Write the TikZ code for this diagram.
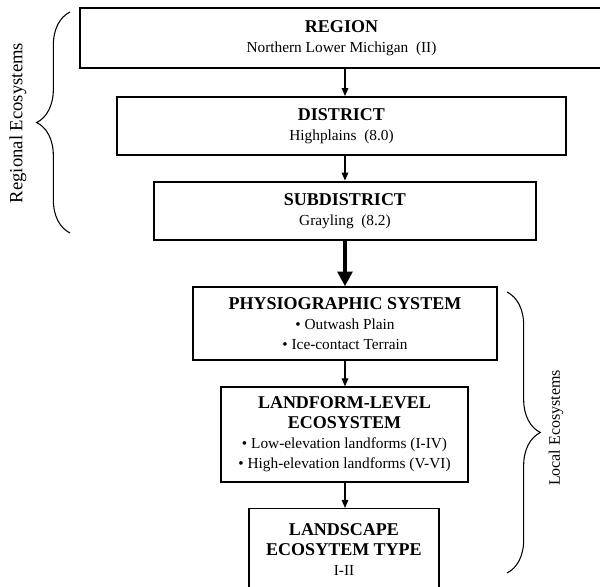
\documentclass[tikz,border=0pt]{standalone}
\usepackage{fontspec}
\setmainfont{Liberation Serif}
\usetikzlibrary{arrows.meta,decorations.pathreplacing}

\newcommand{\bhead}[1]{{\fontsize{13.5}{15}\selectfont\bfseries #1}}
\newcommand{\btext}[1]{{\fontsize{11.5}{15}\selectfont #1}}

\tikzstyle{bS}=[rectangle,draw,line width=1.1pt,inner sep = 0pt,align=center,font=\fontsize{11.5}{15}\selectfont]
\tikzstyle{aS}=[line width=0.8pt,-{Triangle[length=6pt,width=5pt]}]
\tikzstyle{aT}=[line width=2.6pt,-{Triangle[length=11pt,width=11pt]}]
\tikzstyle{brS}=[line width=0.8pt,decorate,decoration={brace,amplitude=25pt}]
\tikzstyle{lS}=[rotate=90]

\begin{document}
\begin{tikzpicture}[x=0.75pt,y=0.75pt]
                \useasboundingbox (0,0) rectangle (600,-586);
                \draw (341.5,-38) node[bS,minimum width=392.25pt,minimum height=45pt] (n0)
                    {\bhead{REGION}\\ \btext{Northern Lower Michigan\ \ (II)}};
                \draw (341.5,-126) node[bS,line width=1.5pt,minimum width=336.75pt,minimum height=43.5pt] (n1)
                    {\bhead{DISTRICT}\\ \btext{Highplains\ \ (8.0)}};
                \draw (345,-211) node[bS,line width=2.2pt,minimum width=286.5pt,minimum height=43.5pt] (n2)
                    {\bhead{SUBDISTRICT}\\ \btext{Grayling\ \ (8.2)}};
                \draw (345,-323.5) node[bS,minimum width=228pt,minimum height=54.75pt] (n3)
                    {\bhead{PHYSIOGRAPHIC SYSTEM}\\ \btext{\textbullet\ Outwash Plain}\\ \btext{\textbullet\ Ice-contact Terrain}};
                \draw (344.5,-434.5) node[bS,minimum width=185.25pt,minimum height=71.25pt] (n4)
                    {\bhead{LANDFORM-LEVEL}\\ \bhead{ECOSYSTEM}\\ \btext{\textbullet\ Low-elevation landforms (I-IV)}\\ \btext{\textbullet\ High-elevation landforms (V-VI)}};
                \draw (344,-550) node[bS,minimum width=142.5pt,minimum height=62pt] (n5)
                    {\bhead{LANDSCAPE}\\ \bhead{ECOSYTEM TYPE}\\ \btext{I-II}};
                \path
                    (n0.south -| n2.north) edge[aS] (n1.north -| n2.north)
                    (n1.south -| n2.north) edge[aS] (n2.north)
                    (n2.south) edge[aT] (n3.north)
                    (n3.south) edge[aS] (n4.north -| n3.south)
                    (n4.south -| n3.south) edge[aS] (n5.north -| n3.south)
                ;
                % braces
                \coordinate (rA) at (70,-233);
                \coordinate (rB) at (70,-12);
                \coordinate (lA) at (507,-292);
                \coordinate (lB) at (507,-573);
                \draw[brS] (rA) -- (rB);
                \draw[brS] (lA) -- (lB);
                \draw (18,-123) node[lS,font=\fontsize{14}{16}\selectfont] (reg) {Regional Ecosystems};
                \draw (556,-428) node[lS,font=\fontsize{12}{14}\selectfont] (loc) {Local Ecosystems};
        \end{tikzpicture}
\end{document}
